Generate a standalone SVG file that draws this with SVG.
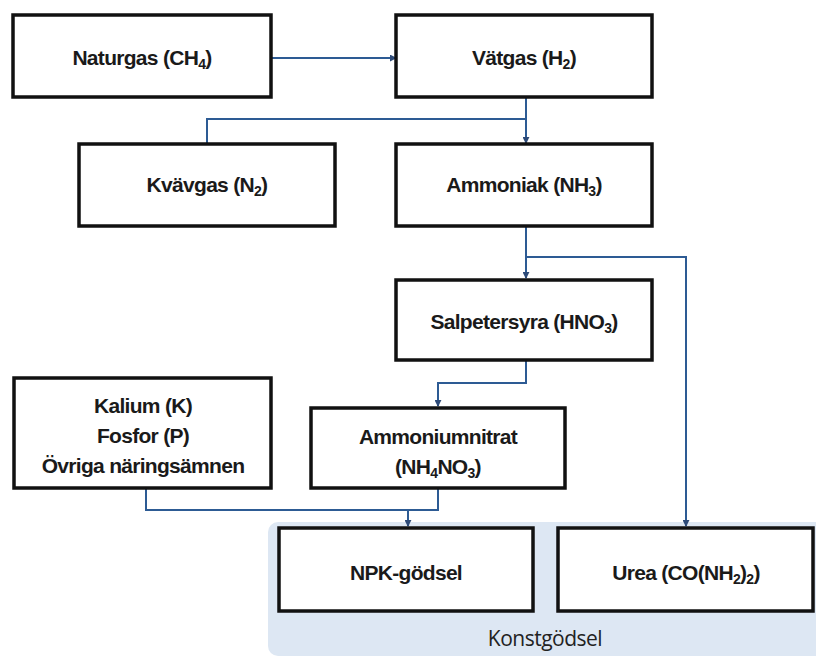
<svg xmlns="http://www.w3.org/2000/svg" width="816" height="660" viewBox="0 0 816 660">
<defs>
<style>
.box{fill:#fff;stroke:#111;stroke-width:3.5}
.t{font-family:"Liberation Sans",Arial,sans-serif;font-weight:bold;font-size:21px;fill:#1a1a1a;text-anchor:middle;letter-spacing:-0.7px}
.s{font-size:14px}
.c{fill:none;stroke:#2d5b94;stroke-width:2}
.lbl{font-family:"Open Sans","Liberation Sans",sans-serif;font-size:21px;fill:#222;text-anchor:middle;letter-spacing:-0.5px}
</style>
<marker id="ah" viewBox="0 0 8 8" refX="7" refY="4" markerWidth="7" markerHeight="7" orient="auto" markerUnits="userSpaceOnUse">
<path d="M0,0 L8,4 L0,8 z" fill="#2d4a78"/>
</marker>
</defs>
<rect width="816" height="660" fill="#fff"/>
<g id="konstgodsel">
<rect x="268" y="522" width="560" height="134" rx="10" fill="#dde7f3"/>
<text class="lbl" x="545" y="646">Konstgödsel</text>
</g>
<g id="connectors">
<path class="c" d="M272,58 H396" marker-end="url(#ah)"/>
<path class="c" d="M526,97 V143" marker-end="url(#ah)"/>
<path class="c" d="M526,119 H207 V143"/>
<path class="c" d="M526,225 V278" marker-end="url(#ah)"/>
<path class="c" d="M526,257 H686 V526" marker-end="url(#ah)"/>
<path class="c" d="M526,360 V383 H438 V406" marker-end="url(#ah)"/>
<path class="c" d="M146,488 V510 H438 V488"/>
<path class="c" d="M408,510 V526" marker-end="url(#ah)"/>
</g>
<g id="naturgas"><rect class="box" x="13" y="15" width="258" height="82"/>
<text class="t" x="142" y="65">Naturgas (CH<tspan class="s" dy="4">4</tspan><tspan dy="-4">)</tspan></text></g>
<g id="vatgas"><rect class="box" x="396" y="15" width="256" height="82"/>
<text class="t" x="524" y="65">Vätgas (H<tspan class="s" dy="4">2</tspan><tspan dy="-4">)</tspan></text></g>
<g id="kvavgas"><rect class="box" x="79" y="144" width="256" height="82"/>
<text class="t" x="207" y="192">Kvävgas (N<tspan class="s" dy="4">2</tspan><tspan dy="-4">)</tspan></text></g>
<g id="ammoniak"><rect class="box" x="396" y="144" width="256" height="82"/>
<text class="t" x="524" y="192">Ammoniak (NH<tspan class="s" dy="4">3</tspan><tspan dy="-4">)</tspan></text></g>
<g id="salpetersyra"><rect class="box" x="396" y="280" width="256" height="80"/>
<text class="t" x="524" y="329">Salpetersyra (HNO<tspan class="s" dy="4">3</tspan><tspan dy="-4">)</tspan></text></g>
<g id="kalium"><rect class="box" x="14" y="378" width="257" height="110"/>
<text class="t" x="143" y="413">Kalium (K)</text>
<text class="t" x="143" y="443">Fosfor (P)</text>
<text class="t" x="143" y="473">Övriga näringsämnen</text></g>
<g id="ammoniumnitrat"><rect class="box" x="311" y="408" width="254" height="80"/>
<text class="t" x="438" y="444">Ammoniumnitrat</text>
<text class="t" x="438" y="474">(NH<tspan class="s" dy="4">4</tspan><tspan dy="-4">NO</tspan><tspan class="s" dy="4">3</tspan><tspan dy="-4">)</tspan></text></g>
<g id="npk"><rect class="box" x="279" y="528" width="254" height="83"/>
<text class="t" x="406" y="580">NPK-gödsel</text></g>
<g id="urea"><rect class="box" x="558" y="528" width="255" height="83"/>
<text class="t" x="686" y="580">Urea (CO(NH<tspan class="s" dy="4">2</tspan><tspan dy="-4">)</tspan><tspan class="s" dy="4">2</tspan><tspan dy="-4">)</tspan></text></g>
</svg>
